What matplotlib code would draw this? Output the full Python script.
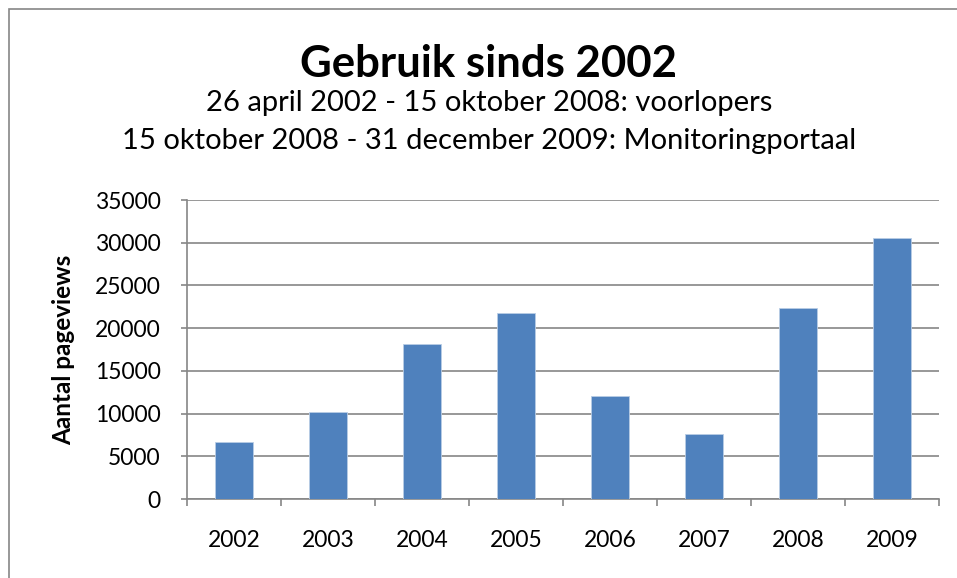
import matplotlib
matplotlib.use("Agg")
import matplotlib.pyplot as plt
from matplotlib.patches import Rectangle
import numpy as np

plt.rcParams['font.family'] = ['Lato', 'DejaVu Sans']

# pageviews per jaar
years = ['2002', '2003', '2004', '2005', '2006', '2007', '2008', '2009']
pageviews = [6680, 10150, 18110, 21740, 12060, 7570, 22330, 30600]
yticks = [0, 5000, 10000, 15000, 20000, 25000, 30000, 35000]

axis_grey = '#868686'
bar_blue = '#4F81BD'

fig = plt.figure(figsize=(9.57, 5.78), dpi=100)
ax = fig.add_axes([187 / 957, 1 - 499 / 578, (939 - 187) / 957, (499 - 200) / 578])

x = np.arange(len(years))
ax.bar(x, pageviews, width=0.4, color=bar_blue, edgecolor='#B9CDE5', linewidth=0.6, zorder=3)

ax.set_xlim(-0.5, len(years) - 0.5)
ax.set_ylim(0, 35000)
ax.set_yticks(yticks)
ax.set_yticklabels([str(t) for t in yticks], fontsize=16.5)
ax.set_xticks(x)
ax.set_xticklabels(years, fontsize=16.5)
ax.set_xticks(np.arange(-0.5, len(years)), minor=True)

ax.tick_params(axis='x', which='major', length=0, pad=22)
ax.tick_params(axis='x', which='minor', length=5, width=1.2, color=axis_grey, direction='out')
ax.tick_params(axis='y', length=4, width=1.2, color=axis_grey, pad=15)

ax.yaxis.grid(True, color=axis_grey, linewidth=1.2, zorder=0)
for side in ['top', 'right']:
    ax.spines[side].set_visible(False)
for side in ['left', 'bottom']:
    ax.spines[side].set_color(axis_grey)
    ax.spines[side].set_linewidth(1.2)

ax.set_ylabel('Aantal pageviews', fontsize=17.5, fontweight='bold', labelpad=14)

fig.text(489 / 957, 1 - 77 / 578, 'Gebruik sinds 2002', ha='center', va='baseline',
         fontsize=31.5, fontweight='bold')
fig.text(489 / 957, 1 - 111 / 578, '26 april 2002 - 15 oktober 2008: voorlopers',
         ha='center', va='baseline', fontsize=21)
fig.text(489 / 957, 1 - 149 / 578, '15 oktober 2008 - 31 december 2009: Monitoringportaal',
         ha='center', va='baseline', fontsize=21)

# kader rond de grafiek
fig.patches.append(Rectangle((9 / 957, -0.1), 1.2, 1 - 9 / 578 + 0.1, transform=fig.transFigure,
                             fill=False, edgecolor=axis_grey, linewidth=1.2))

fig.savefig('out.png', dpi=100)
